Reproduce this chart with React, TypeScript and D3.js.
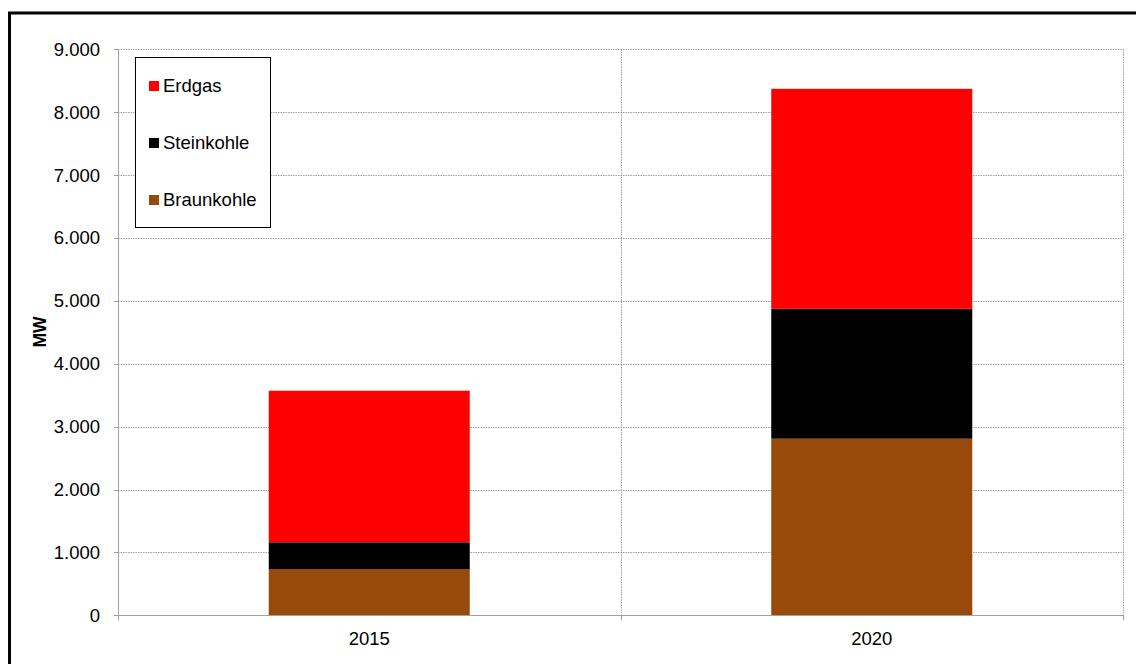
import React from "react";
import * as d3 from "d3";

const categories = ["2015", "2020"];
const seriesNames = ["Braunkohle", "Steinkohle", "Erdgas"];
const braunkohle = [736, 2808];
const steinkohle = [425, 2066];
const erdgas = [2410, 3498];
const seriesColors = ["#974a09", "#000000", "#ff0000"];
const yTicks = [0, 1000, 2000, 3000, 4000, 5000, 6000, 7000, 8000, 9000];
const legendOrder = ["Erdgas", "Steinkohle", "Braunkohle"];

const W = 1136;
const H = 664;
const plot = { left: 118, right: 1123, top: 49.3, bottom: 615.3 };
const font = "'Liberation Sans', Arial, sans-serif";
const FS = 18.5;

export default function App() {
  const x = d3
    .scaleBand<string>()
    .domain(categories)
    .range([plot.left, plot.right])
    .paddingInner(0)
    .paddingOuter(0);
  const y = d3.scaleLinear().domain([0, 9000]).range([plot.bottom, plot.top]);
  const fmt = (v: number) => d3.format(",")(v).replace(/,/g, ".");

  const rows = categories.map((c, i) => ({
    cat: c,
    Braunkohle: braunkohle[i],
    Steinkohle: steinkohle[i],
    Erdgas: erdgas[i],
  }));
  const stacked = d3.stack<any>().keys(seriesNames)(rows);
  const barW = x.bandwidth() * 0.4;
  const color = d3.scaleOrdinal<string, string>().domain(seriesNames).range(seriesColors);

  const legendBase = [91.5, 148.5, 205.5];

  return (
    <svg
      width={W}
      height={H}
      style={{ position: "absolute", left: 0, top: 0, background: "#fff" }}
      fontFamily={font}
    >
      <rect x={9.5} y={13} width={W + 20} height={H + 20} fill="#fff" stroke="#000" strokeWidth={3} />
      {/* gridlines */}
      {yTicks.map((t) => (
        <line
          key={"g" + t}
          x1={plot.left}
          x2={plot.right}
          y1={Math.round(y(t)) + 0.5}
          y2={Math.round(y(t)) + 0.5}
          stroke={t === 0 ? "none" : "#a0a0a0"}
          strokeDasharray="1.5,1"
          strokeWidth={1}
        />
      ))}
      {categories.slice(1).map((c) => (
        <line
          key={"vg" + c}
          x1={Math.round(x(c)!) + 0.5}
          x2={Math.round(x(c)!) + 0.5}
          y1={plot.top}
          y2={plot.bottom}
          stroke="#a0a0a0"
          strokeDasharray="1.5,1"
        />
      ))}
      <line
        x1={plot.right + 0.5}
        x2={plot.right + 0.5}
        y1={plot.top}
        y2={plot.bottom}
        stroke="#a0a0a0"
        strokeDasharray="1.5,1"
      />
      {/* bars */}
      {stacked.map((s) => (
        <g key={s.key} fill={color(s.key)}>
          {s.map((d, i) => (
            <rect
              key={i}
              x={x(categories[i])! + (x.bandwidth() - barW) / 2}
              y={y(d[1])}
              width={barW}
              height={y(d[0]) - y(d[1])}
            />
          ))}
        </g>
      ))}
      {/* y axis */}
      <line x1={plot.left + 0.5} x2={plot.left + 0.5} y1={plot.top} y2={plot.bottom + 1} stroke="#a0a0a0" />
      {yTicks.map((t) => (
        <g key={"t" + t}>
          <line
            x1={plot.left - 4}
            x2={plot.left}
            y1={Math.round(y(t)) + 0.5}
            y2={Math.round(y(t)) + 0.5}
            stroke="#a0a0a0"
          />
          <text x={100} y={y(t)} dy="0.35em" textAnchor="end" fontSize={FS} fill="#000">
            {fmt(t)}
          </text>
        </g>
      ))}
      {/* x axis */}
      <line x1={plot.left} x2={plot.right + 1} y1={Math.round(plot.bottom) + 0.5} y2={Math.round(plot.bottom) + 0.5} stroke="#a0a0a0" />
      {[...categories.map((c) => x(c)!), plot.right].map((v, i) => (
        <line
          key={"xt" + i}
          x1={Math.round(v) + 0.5}
          x2={Math.round(v) + 0.5}
          y1={plot.bottom}
          y2={plot.bottom + 5}
          stroke="#a0a0a0"
        />
      ))}
      {categories.map((c) => (
        <text key={"xl" + c} x={x(c)! + x.bandwidth() / 2} y={645} textAnchor="middle" fontSize={FS} fill="#000">
          {c}
        </text>
      ))}
      <text
        transform={`translate(45.5,332) rotate(-90)`}
        textAnchor="middle"
        fontSize={17.5}
        fontWeight="bold"
        fill="#000"
      >
        MW
      </text>
      {/* legend */}
      <rect x={135.5} y={57.5} width={135} height={170} fill="#fff" stroke="#000" strokeWidth={1} />
      {legendOrder.map((n, i) => (
        <g key={"lg" + n}>
          <rect x={149} y={legendBase[i] - 10.5} width={10} height={10} fill={color(n)} />
          <text x={163} y={legendBase[i]} fontSize={FS} fill="#000">
            {n}
          </text>
        </g>
      ))}
    </svg>
  );
}
